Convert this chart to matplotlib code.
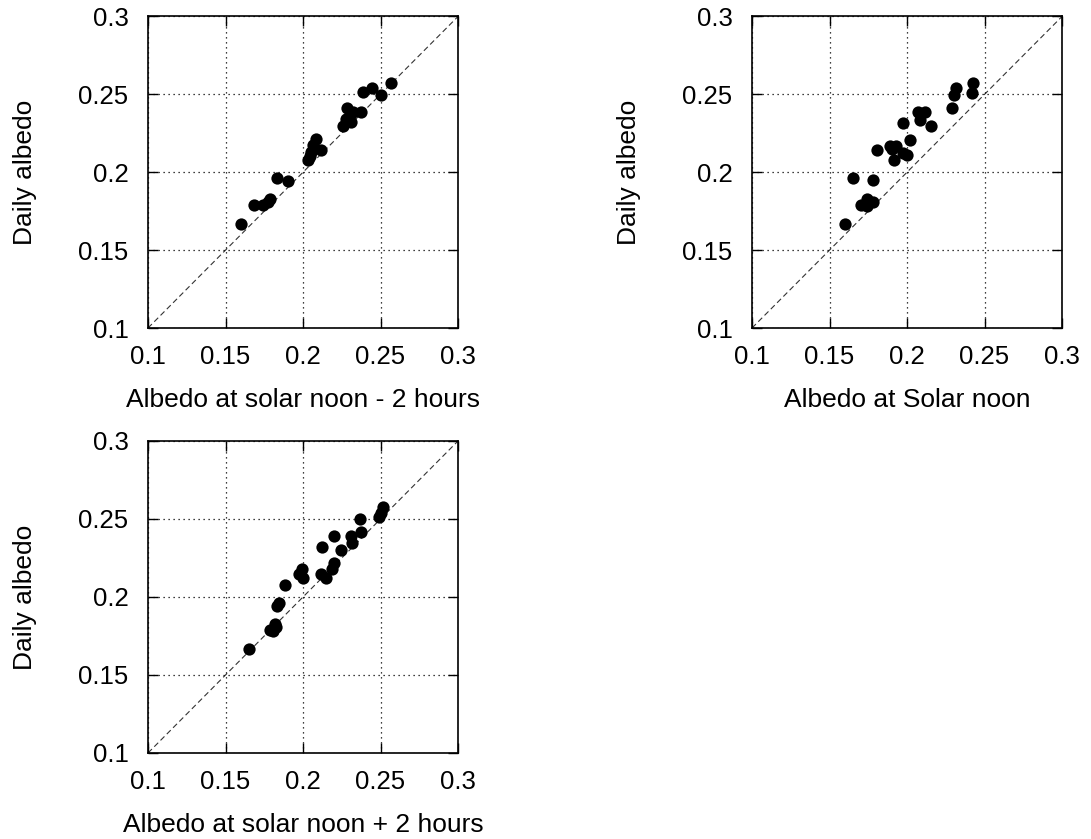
import matplotlib
matplotlib.use("Agg")
import matplotlib.pyplot as plt
import numpy as np

plt.rcParams['font.family'] = ['Liberation Sans', 'DejaVu Sans']

# daily albedo against albedo at three times of day
noon_minus2 = [0.2565, 0.2446, 0.2384, 0.2500, 0.2287, 0.2323, 0.2373, 0.2280,
               0.2308, 0.2259, 0.2086, 0.2065, 0.2119, 0.2054, 0.2043, 0.2032,
               0.1832, 0.1903, 0.1784, 0.1774, 0.1741, 0.1683, 0.1601]
daily_minus2 = [0.2571, 0.2539, 0.2514, 0.2497, 0.2412, 0.2390, 0.2390, 0.2341,
                0.2320, 0.2294, 0.2213, 0.2177, 0.2141, 0.2128, 0.2102, 0.2077,
                0.1964, 0.1947, 0.1829, 0.1808, 0.1787, 0.1787, 0.1665]

noon = [0.2426, 0.2317, 0.2302, 0.2420, 0.2291, 0.2071, 0.2118, 0.2086, 0.2156,
        0.1976, 0.2021, 0.1809, 0.1889, 0.1931, 0.1900, 0.1974, 0.2002, 0.1916,
        0.1649, 0.1782, 0.1745, 0.1782, 0.1702, 0.1739, 0.1600]
daily_noon = [0.2574, 0.2538, 0.2496, 0.2511, 0.2411, 0.2389, 0.2385, 0.2336,
              0.2298, 0.2319, 0.2209, 0.2140, 0.2170, 0.2170, 0.2149, 0.2123,
              0.2109, 0.2077, 0.1964, 0.1949, 0.1830, 0.1809, 0.1787, 0.1783,
              0.1666]

noon_plus2 = [0.2513, 0.2500, 0.2491, 0.2366, 0.2198, 0.2308, 0.2371, 0.2319,
              0.2123, 0.2246, 0.2200, 0.2188, 0.1996, 0.1972, 0.2000, 0.2119,
              0.2147, 0.1881, 0.1845, 0.1834, 0.1817, 0.1828, 0.1784, 0.1806,
              0.1649]
daily_plus2 = [0.2580, 0.2541, 0.2516, 0.2501, 0.2394, 0.2392, 0.2419, 0.2345,
               0.2323, 0.2300, 0.2216, 0.2178, 0.2180, 0.2146, 0.2120, 0.2148,
               0.2124, 0.2077, 0.1959, 0.1944, 0.1824, 0.1809, 0.1788, 0.1784,
               0.1664]

ticks = [0.1, 0.15, 0.2, 0.25, 0.3]
tick_labels = ['0.1', '0.15', '0.2', '0.25', '0.3']

panels = [
    (noon_minus2, daily_minus2, 'Albedo at solar noon - 2 hours',
     [148 / 1091, 1 - 328 / 839, 310 / 1091, 311.5 / 839]),
    (noon, daily_noon, 'Albedo at Solar noon',
     [752 / 1091, 1 - 328 / 839, 310 / 1091, 311.5 / 839]),
    (noon_plus2, daily_plus2, 'Albedo at solar noon + 2 hours',
     [148 / 1091, 1 - 753 / 839, 310 / 1091, 312 / 839]),
]

fig = plt.figure(figsize=(10.91, 8.39), dpi=100)

for xs, ys, xlabel, rect in panels:
    ax = fig.add_axes(rect)
    ax.plot([0.1, 0.3], [0.1, 0.3], color='#333333', lw=0.8,
            dashes=(5, 3), zorder=1)
    ax.scatter(xs, ys, s=78, color='black', zorder=3, linewidths=0)
    ax.set_xlim(0.1, 0.3)
    ax.set_ylim(0.1, 0.3)
    ax.set_xticks(ticks)
    ax.set_yticks(ticks)
    ax.set_xticklabels(tick_labels)
    ax.set_yticklabels(tick_labels)
    ax.grid(True, color='black', linestyle=(0, (1, 3)), lw=0.9, zorder=0)
    ax.tick_params(direction='in', length=7, width=1.0, labelsize=18.5,
                   top=True, right=True)
    ax.tick_params(axis='x', pad=12)
    ax.tick_params(axis='y', pad=14)
    for sp in ax.spines.values():
        sp.set_linewidth(1.2)
    ax.set_xlabel(xlabel, fontsize=19, labelpad=14)
    ax.set_ylabel('Daily albedo', fontsize=19, labelpad=30)

fig.savefig('out.png', dpi=100)
